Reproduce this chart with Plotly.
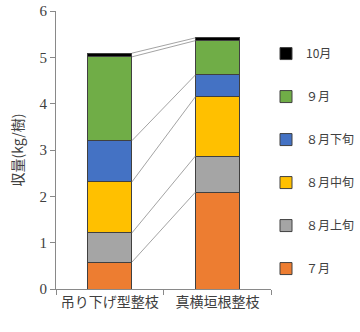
import plotly.graph_objects as go

# Harvest per tree (kg) by period, for two training systems
systems = ["吊り下げ型整枝", "真横垣根整枝"]
periods = ["７月", "８月上旬", "８月中旬", "８月下旬", "９月", "10月"]
jul = [0.58, 2.09]
aug_early = [0.63, 0.78]
aug_mid = [1.10, 1.28]
aug_late = [0.89, 0.47]
sep = [1.81, 0.74]
oct_ = [0.08, 0.06]
series = [jul, aug_early, aug_mid, aug_late, sep, oct_]
colors = ["#ED7D31", "#A5A5A5", "#FFC000", "#4472C4", "#70AD47", "#000000"]
y_ticks = [0, 1, 2, 3, 4, 5, 6]

bar_width = 0.41
xpos = list(range(len(systems)))

fig = go.Figure()

# series connector lines between the tops of matching segments
cum = [0.0] * len(systems)
for vals in series:
    cum = [c + v for c, v in zip(cum, vals)]
    fig.add_trace(go.Scatter(
        x=[xpos[0] + bar_width / 2, xpos[1] - bar_width / 2],
        y=[cum[0], cum[1]],
        mode="lines",
        line=dict(color="#8c8c8c", width=0.8),
        showlegend=False,
        hoverinfo="skip",
    ))

n = len(periods)
for i, (name, vals, col) in enumerate(zip(periods, series, colors)):
    fig.add_trace(go.Bar(
        x=xpos, y=vals, name=name, width=bar_width,
        marker=dict(color=col, line=dict(color="#404040", width=1)),
        legendgroup=name,
        legendrank=n - i,
    ))

fig.update_layout(
    barmode="stack",
    width=360, height=332,
    margin=dict(l=56, r=0, t=11, b=43),
    paper_bgcolor="white", plot_bgcolor="white",
    showlegend=True,
    legend=dict(
        traceorder="grouped",
        tracegroupgap=24,
        x=0.692, xanchor="left", y=0.899, yanchor="top",
        font=dict(family="Noto Sans CJK JP", size=12, color="#404040"),
        bgcolor="rgba(0,0,0,0)",
    ),
    xaxis=dict(
        domain=[0, 216 / 304],
        range=[-0.5, 1.5],
        tickmode="array", tickvals=xpos, ticktext=systems,
        ticks="",
        showline=True, linecolor="#898989", linewidth=1,
        tickfont=dict(family="Noto Sans CJK JP", size=14, color="#404040"),
        minor=dict(tickmode="array", tickvals=[-0.5, 0.5, 1.5], ticks="outside",
                   ticklen=5, tickcolor="#898989"),
        showgrid=False, zeroline=False,
    ),
    yaxis=dict(
        range=[0, 6],
        tickmode="array", tickvals=y_ticks,
        ticks="outside", ticklen=5, tickcolor="#898989",
        showline=True, linecolor="#898989", linewidth=1,
        tickfont=dict(family="Liberation Serif", size=15, color="#404040"),
        showgrid=False, zeroline=False,
        title=dict(text="収量(kg/樹)", standoff=12,
                   font=dict(family="Noto Sans CJK JP", size=14, color="#404040")),
    ),
)

fig.write_html("out.html")
